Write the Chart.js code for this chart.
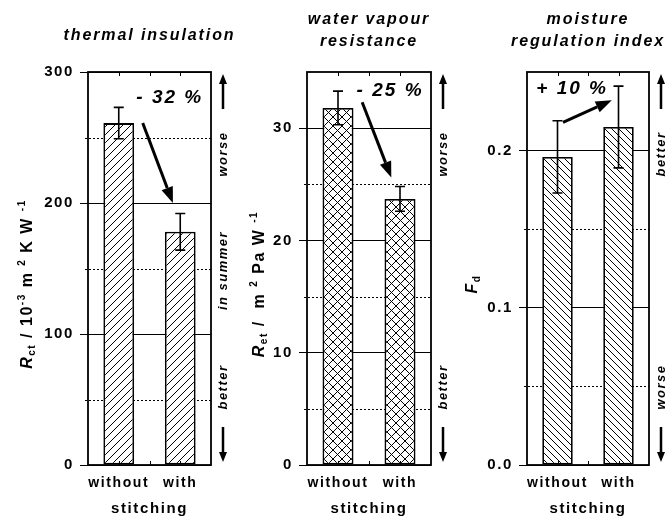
<!DOCTYPE html>
<html>
<head>
<meta charset="utf-8">
<script src="https://cdn.jsdelivr.net/npm/chart.js@4.4.1/dist/chart.umd.min.js"></script>
<style>
  body { margin: 0; background: #fff; }
  #wrap { position: relative; width: 666px; height: 518px; overflow: hidden; }
  canvas { position: absolute; top: 0; left: 0; }
</style>
</head>
<body>
<div id="wrap">
  <canvas id="c1" width="666" height="518"></canvas>
  <canvas id="c2" width="666" height="518"></canvas>
  <canvas id="c3" width="666" height="518"></canvas>
</div>
<script>
// data
const categories = ['without', 'with'];
const rctValues = [261, 178];
const rctErrors = [12, 14];
const retValues = [31.8, 23.7];
const retErrors = [1.5, 1.1];
const fdValues = [0.196, 0.215];
const fdErrors = [0.023, 0.026];
const changeLabels = ['- 32 %', '- 25 %', '+ 10 %'];

const FAMILY = "'Liberation Sans', Arial, sans-serif";
Chart.defaults.font.family = FAMILY;
Chart.defaults.color = '#000';

function hatch(kind, size) {
  const c = document.createElement('canvas');
  c.width = size; c.height = size;
  const g = c.getContext('2d');
  g.fillStyle = '#fff';
  g.fillRect(0, 0, size, size);
  g.strokeStyle = '#000';
  g.lineWidth = 1;
  g.beginPath();
  if (kind === 'fwd' || kind === 'cross') {
    g.moveTo(0, size); g.lineTo(size, 0);
    g.moveTo(-1, 1); g.lineTo(1, -1);
    g.moveTo(size - 1, size + 1); g.lineTo(size + 1, size - 1);
  }
  if (kind === 'back' || kind === 'cross') {
    g.moveTo(0, 0); g.lineTo(size, size);
    g.moveTo(-1, size - 1); g.lineTo(1, size + 1);
    g.moveTo(size - 1, -1); g.lineTo(size + 1, 1);
  }
  g.stroke();
  return g.createPattern(c, 'repeat');
}

function isMajor(v, major) {
  const r = v / major;
  return Math.abs(r - Math.round(r)) < 1e-6;
}

function arrow(ctx, x1, y1, x2, y2, width, headLen, headHalf) {
  const a = Math.atan2(y2 - y1, x2 - x1);
  const bx = x2 - headLen * Math.cos(a), by = y2 - headLen * Math.sin(a);
  ctx.lineWidth = width;
  ctx.beginPath(); ctx.moveTo(x1, y1); ctx.lineTo(bx, by); ctx.stroke();
  ctx.beginPath();
  ctx.moveTo(x2, y2);
  ctx.lineTo(bx + headHalf * Math.sin(a), by - headHalf * Math.cos(a));
  ctx.lineTo(bx - headHalf * Math.sin(a), by + headHalf * Math.cos(a));
  ctx.closePath(); ctx.fill();
}

// rotated text made of parts (subscripts / superscripts)
function richText(ctx, parts, cx, cy, size) {
  ctx.save();
  ctx.translate(cx, cy);
  ctx.rotate(-Math.PI / 2);
  ctx.letterSpacing = '1.5px';
  ctx.textBaseline = 'alphabetic';
  ctx.textAlign = 'left';
  let w = 0;
  const info = parts.map(p => {
    const s = (p.sub || p.sup) ? Math.round(size * 0.62) : size;
    const f = (p.italic ? 'italic ' : '') + 'bold ' + s + 'px ' + FAMILY;
    ctx.font = f;
    const pw = ctx.measureText(p.t).width;
    w += pw;
    return { f, pw, dy: p.sub ? size * 0.22 : p.sup ? -size * 0.42 : 0 };
  });
  let x = -w / 2;
  parts.forEach((p, i) => {
    ctx.font = info[i].f;
    ctx.fillText(p.t, x, info[i].dy + size * 0.36);
    x += info[i].pw;
  });
  ctx.restore();
}

function sideText(ctx, text, cx, cy) {
  ctx.save();
  ctx.translate(cx, cy);
  ctx.rotate(-Math.PI / 2);
  ctx.font = 'italic bold 13px ' + FAMILY;
  ctx.letterSpacing = '1.5px';
  ctx.textAlign = 'center';
  ctx.textBaseline = 'middle';
  ctx.fillText(text, 0, 0);
  ctx.restore();
}

const panels = [
  {
    canvas: 'c1', values: rctValues, errors: rctErrors, max: 300, step: 50, major: 100, digits: 0,
    pattern: hatch('fwd', 8), padLeft: 0, axisWidth: 88, padRight: 455,
    title: ['thermal insulation'], titleY: [36],
    yTitle: [{ t: 'R', italic: true }, { t: 'ct', sub: true }, { t: ' / 10' }, { t: '-3', sup: true },
             { t: ' m ' }, { t: '2', sup: true }, { t: ' K W ' }, { t: '-1', sup: true }],
    yTitleX: 26,
    change: changeLabels[0], changeAt: [0.83, 280], arrowFrom: [0.39, 261], arrowTo: [0.88, 200],
    side: [['worse', 'top'], ['in summer', 'mid'], ['better', 'bottom']]
  },
  {
    canvas: 'c2', values: retValues, errors: retErrors, max: 35, step: 5, major: 10, digits: 0,
    pattern: hatch('cross', 9), padLeft: 232, axisWidth: 75, padRight: 235,
    title: ['water vapour', 'resistance'], titleY: [20, 42],
    yTitle: [{ t: 'R', italic: true }, { t: 'et', sub: true }, { t: ' /  m ' }, { t: '2', sup: true },
             { t: ' Pa W ' }, { t: '-1', sup: true }],
    yTitleX: 258,
    change: changeLabels[1], changeAt: [0.84, 33.3], arrowFrom: [0.39, 32.3], arrowTo: [0.86, 25.6],
    side: [['worse', 'top'], ['better', 'bottom']]
  },
  {
    canvas: 'c3', values: fdValues, errors: fdErrors, max: 0.25, step: 0.05, major: 0.1, digits: 1,
    pattern: hatch('back', 7), padLeft: 452, axisWidth: 75, padRight: 17,
    title: ['moisture', 'regulation index'], titleY: [20, 42],
    yTitle: [{ t: 'F', italic: true }, { t: 'd', sub: true }],
    yTitleX: 471,
    change: changeLabels[2], changeAt: [0.24, 0.2395], arrowFrom: [0.09, 0.218], arrowTo: [0.89, 0.232],
    side: [['better', 'top'], ['worse', 'bottom']]
  }
];

function makeDecor(p) {
  return {
    id: 'decor',
    beforeDraw(chart) {
      chart.ctx.letterSpacing = '1.6px';
    },
    beforeDatasetsDraw(chart) {
      const { ctx, chartArea: a, scales: { y } } = chart;
      ctx.save();
      ctx.strokeStyle = '#000';
      ctx.lineWidth = 1;
      ctx.setLineDash([2, 2]);
      y.ticks.forEach(t => {
        if (isMajor(t.value, p.major) || t.value >= p.max) return;
        const py = Math.round(y.getPixelForValue(t.value)) + 0.5;
        ctx.beginPath(); ctx.moveTo(a.left - 3, py); ctx.lineTo(a.right, py); ctx.stroke();
      });
      ctx.restore();
    },
    afterDatasetsDraw(chart) {
      const { ctx, chartArea: a, scales: { x, y } } = chart;
      ctx.save();
      ctx.letterSpacing = '0px';
      ctx.strokeStyle = '#000';
      ctx.fillStyle = '#000';

      // error bars
      ctx.lineWidth = 1.6;
      p.values.forEach((v, i) => {
        const px = x.getPixelForValue(i);
        const top = y.getPixelForValue(v + p.errors[i]);
        const bot = y.getPixelForValue(v - p.errors[i]);
        ctx.beginPath();
        ctx.moveTo(px, top); ctx.lineTo(px, bot);
        ctx.moveTo(px - 5, top); ctx.lineTo(px + 5, top);
        ctx.moveTo(px - 5, bot); ctx.lineTo(px + 5, bot);
        ctx.stroke();
      });

      // frame and small ticks on top / bottom
      ctx.lineWidth = 1.8;
      ctx.strokeRect(a.left, a.top, a.right - a.left, a.bottom - a.top);
      ctx.lineWidth = 1;
      [0, 0.5, 1].forEach(v => {
        const px = Math.round(x.getPixelForValue(v)) + 0.5;
        ctx.beginPath();
        ctx.moveTo(px, a.top); ctx.lineTo(px, a.top + 4);
        ctx.moveTo(px, a.bottom); ctx.lineTo(px, a.bottom - 4);
        ctx.stroke();
      });

      // change arrow and label
      arrow(ctx, x.getPixelForValue(p.arrowFrom[0]), y.getPixelForValue(p.arrowFrom[1]),
            x.getPixelForValue(p.arrowTo[0]), y.getPixelForValue(p.arrowTo[1]), 3, 16, 6);
      ctx.font = 'italic bold 19px ' + FAMILY;
      ctx.letterSpacing = '2px';
      ctx.textAlign = 'center';
      ctx.textBaseline = 'middle';
      ctx.fillText(p.change, x.getPixelForValue(p.changeAt[0]), y.getPixelForValue(p.changeAt[1]));

      // panel title
      ctx.font = 'italic bold 16px ' + FAMILY;
      ctx.letterSpacing = '1.9px';
      const cx = (a.left + a.right) / 2;
      p.title.forEach((t, i) => ctx.fillText(t, cx, p.titleY[i]));

      // right-hand hints
      const sx = a.right + 12;
      ctx.letterSpacing = '0px';
      arrow(ctx, sx, a.top + 37, sx, a.top + 2, 2.5, 10, 4);
      arrow(ctx, sx, a.bottom - 38, sx, a.bottom - 3, 2.5, 10, 4);
      p.side.forEach(([text, where]) => {
        const cy = where === 'top' ? a.top + 82 : where === 'bottom' ? a.bottom - 78 : (a.top + a.bottom) / 2 + 2;
        sideText(ctx, text, sx, cy);
      });

      // y axis title
      richText(ctx, p.yTitle, p.yTitleX, 284, 16);
      ctx.restore();
    }
  };
}

panels.forEach(p => {
  new Chart(document.getElementById(p.canvas), {
    type: 'bar',
    data: {
      labels: categories,
      datasets: [{
        data: p.values,
        backgroundColor: p.pattern,
        borderColor: '#000',
        borderWidth: 1.8,
        borderSkipped: false,
        barPercentage: 1,
        categoryPercentage: 0.5
      }]
    },
    options: {
      responsive: false,
      animation: false,
      events: [],
      layout: { padding: { top: 72, right: p.padRight, left: p.padLeft, bottom: 0 } },
      plugins: { legend: { display: false }, tooltip: { enabled: false } },
      scales: {
        x: {
          grid: { display: false },
          border: { display: false },
          ticks: { color: '#000', font: { size: 14, weight: 'bold' }, padding: 2 },
          title: { display: true, text: 'stitching', color: '#000', font: { size: 15, weight: 'bold' }, padding: 0 },
          afterFit(s) { s.height = 53; }
        },
        y: {
          min: 0,
          max: p.max,
          border: { display: false },
          grid: {
            color: c => isMajor(c.tick.value, p.major) ? '#000' : 'rgba(0,0,0,0)',
            tickColor: c => isMajor(c.tick.value, p.major) ? '#000' : 'rgba(0,0,0,0)',
            lineWidth: 1,
            tickLength: 8
          },
          ticks: {
            stepSize: p.step,
            autoSkip: false,
            color: '#000',
            font: { size: 15, weight: 'bold' },
            padding: 6,
            callback: v => isMajor(v, p.major) ? Number(v).toFixed(p.digits) : ''
          },
          afterFit(s) { s.width = p.axisWidth; }
        }
      }
    },
    plugins: [makeDecor(p)]
  });
});
</script>
</body>
</html>
